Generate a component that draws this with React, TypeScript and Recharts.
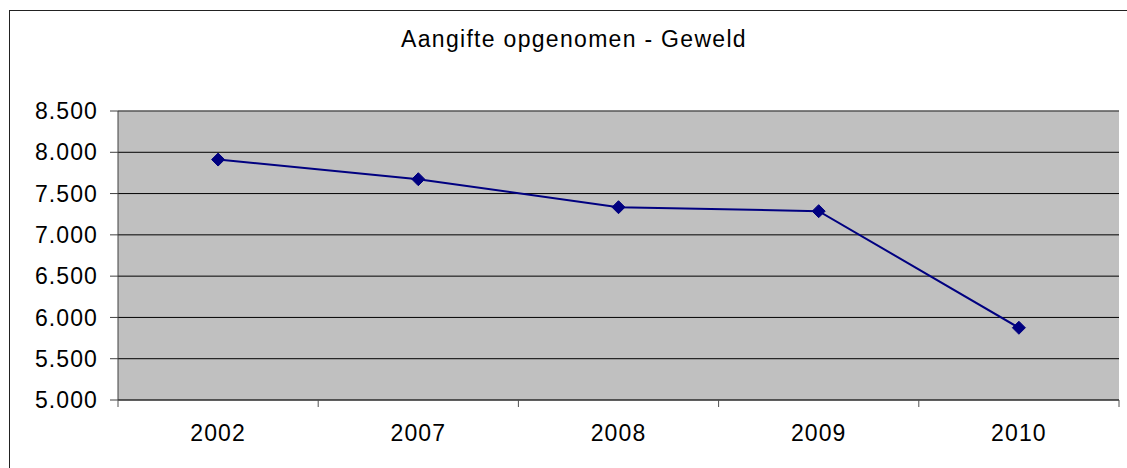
import { CartesianGrid, Line, LineChart, ReferenceLine, XAxis, YAxis } from 'recharts'

const years = ['2002', '2007', '2008', '2009', '2010']
const aangiften = [7912, 7674, 7335, 7287, 5875]
const yTicks = [5000, 5500, 6000, 6500, 7000, 7500, 8000, 8500]

const data = years.map((year, i) => ({ year, value: aangiften[i] }))

const FONT = '"Liberation Sans", Arial, sans-serif'

function formatNl(v: number) {
  return `${Math.floor(v / 1000)}.${String(v % 1000).padStart(3, '0')}`
}

function Diamond(props: any) {
  const { cx, cy, index } = props
  const r = 6.5
  return (
    <polygon
      key={`dot-${index}`}
      points={`${cx},${cy - r} ${cx + r},${cy} ${cx},${cy + r} ${cx - r},${cy}`}
      fill="#000080"
      stroke="#000080"
    />
  )
}

function YearTick(props: any) {
  const { x, y, payload, index } = props
  const half = payload.offset || 100
  return (
    <g>
      {index === 0 && (
        <line x1={x - half} y1={y} x2={x - half} y2={y + 7} stroke="#505050" />
      )}
      <line x1={x + half} y1={y} x2={x + half} y2={y + 7} stroke="#505050" />
      <text
        x={x}
        y={y + 41}
        textAnchor="middle"
        fontFamily={FONT}
        fontSize={23}
        letterSpacing={1.1}
        fill="#000"
      >
        {payload.value}
      </text>
    </g>
  )
}

export default function App() {
  return (
    <div
      style={{
        position: 'absolute',
        left: 0,
        top: 0,
        width: 1127,
        height: 468,
        overflow: 'hidden',
        background: '#fff',
      }}
    >
      <div
        style={{
          position: 'absolute',
          left: 9,
          top: 10,
          width: 1140,
          height: 480,
          border: '1px solid #222',
        }}
      />
      <div
        style={{
          position: 'absolute',
          left: 374,
          top: 28,
          width: 400,
          textAlign: 'center',
          fontFamily: FONT,
          fontSize: 23,
          lineHeight: '23px',
          letterSpacing: 1.3,
          color: '#000',
          whiteSpace: 'nowrap',
        }}
      >
        Aangifte opgenomen - Geweld
      </div>
      <div style={{ position: 'absolute', left: 0, top: 0 }}>
        <LineChart
          width={1127}
          height={468}
          data={data}
          margin={{ top: 111, right: 8, bottom: 38, left: 0 }}
        >
          <CartesianGrid
            vertical={false}
            fill="#c0c0c0"
            stroke="#000"
            strokeOpacity={1}
          />
          <XAxis
            dataKey="year"
            scale="band"
            height={30}
            tickSize={0}
            tickMargin={0}
            tickLine={false}
            axisLine={{ stroke: '#404040' }}
            tick={<YearTick />}
            interval={0}
          />
          <YAxis
            width={118}
            domain={[5000, 8500]}
            ticks={yTicks}
            tickFormatter={formatNl}
            tickSize={8}
            tickMargin={12}
            tickLine={{ stroke: '#404040' }}
            axisLine={{ stroke: '#404040' }}
            tick={{ fill: '#000', fontFamily: FONT, fontSize: 23, letterSpacing: 1.1 }}
            interval={0}
          />
          <YAxis
            yAxisId="right"
            orientation="right"
            width={0}
            tick={false}
            tickLine={false}
            axisLine={{ stroke: '#808080' }}
          />
          <ReferenceLine y={8500} stroke="#808080" />
          <Line
            dataKey="value"
            stroke="#000080"
            strokeWidth={2}
            dot={<Diamond />}
            activeDot={false}
            isAnimationActive={false}
          />
        </LineChart>
      </div>
    </div>
  )
}
